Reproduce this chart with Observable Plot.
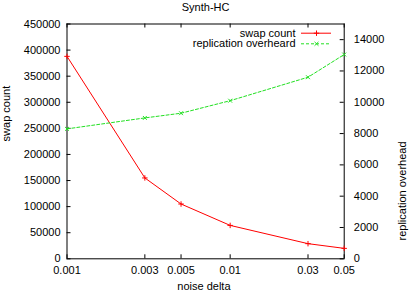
<!DOCTYPE html>
<html>
<head>
<meta charset="utf-8">
<script src="https://cdn.jsdelivr.net/npm/d3@7"></script>
<script src="https://cdn.jsdelivr.net/npm/@observablehq/plot@0.6"></script>
<style>
  html, body { margin: 0; padding: 0; background: #fff; }
</style>
</head>
<body>
<div id="chart"></div>
<script>
// Synth-HC: swap count (left axis) and replication overhead (right axis) vs noise delta
const noiseDelta = [0.001, 0.003, 0.005, 0.01, 0.03, 0.05];
const swapCount = [388000, 155000, 105000, 64000, 29000, 20000];
const replicationOverhead = [8300, 9000, 9300, 10100, 11600, 13050];

const xTicks = [0.001, 0.003, 0.005, 0.01, 0.03, 0.05];
const leftTicks = [0, 50000, 100000, 150000, 200000, 250000, 300000, 350000, 400000, 450000];
const rightTicks = [0, 2000, 4000, 6000, 8000, 10000, 12000, 14000];

// right axis (0–15000) is drawn on the left scale (0–450000)
const k = 450000 / 15000;

const rows = noiseDelta.map((x, i) => ({x, swap: swapCount[i], overhead: replicationOverhead[i] * k}));

const W = 411, H = 293;
const mL = 66.5, mR = 67.3, mT = 23.5, mB = 34.7;
const fw = W - mL - mR, fh = H - mT - mB;
const tickLen = 4;
const red = "#ff0000", green = "#22e022";
const markR = 1.9;

const chart = Plot.plot({
  width: W,
  height: H,
  marginLeft: mL,
  marginRight: mR,
  marginTop: mT,
  marginBottom: mB,
  style: {fontFamily: "'Liberation Sans', Arial, sans-serif", fontSize: "11px", background: "#fff", color: "#000"},
  x: {type: "log", domain: [0.001, 0.05]},
  y: {domain: [0, 450000]},
  marks: [
    // tick labels
    Plot.axisX({ticks: xTicks, tickFormat: d => String(d), tickSize: 0, tickPadding: 7, label: null}),
    Plot.axisY({ticks: leftTicks, tickFormat: d => String(d), tickSize: 0, tickPadding: 6.5, label: null}),
    Plot.axisY({anchor: "right", ticks: rightTicks.map(v => v * k), tickFormat: d => String(Math.round(d / k)), tickSize: 0, tickPadding: 9.6, label: null}),
    // inward ticks
    Plot.tickX(xTicks, {x: d => d, insetTop: fh - tickLen, stroke: "#000"}),
    Plot.tickX(xTicks, {x: d => d, insetBottom: fh - tickLen, stroke: "#000"}),
    Plot.tickY(leftTicks, {y: d => d, insetRight: fw - tickLen, stroke: "#000"}),
    Plot.tickY(rightTicks.map(v => v * k), {y: d => d, insetLeft: fw - tickLen, stroke: "#000"}),
    Plot.frame({stroke: "#000", strokeWidth: 1}),
    // series
    Plot.line(rows, {x: "x", y: "swap", stroke: red, strokeWidth: 1}),
    Plot.dot(rows, {x: "x", y: "swap", symbol: "plus", r: markR, stroke: red, strokeWidth: 1}),
    Plot.line(rows, {x: "x", y: "overhead", stroke: green, strokeWidth: 1, strokeDasharray: "3,2"}),
    Plot.dot(rows, {x: "x", y: "overhead", symbol: "times", r: markR, stroke: green, strokeWidth: 1}),
    // legend
    Plot.text(["swap count"], {frameAnchor: "top-right", textAnchor: "end", lineAnchor: "middle", dx: -48.7, dy: 9.2}),
    Plot.text(["replication overheard"], {frameAnchor: "top-right", textAnchor: "end", lineAnchor: "middle", dx: -48.7, dy: 19.8}),
    Plot.tickY([450000], {y: d => d, dy: 9.2, insetLeft: fw - 42.7, insetRight: 12.7, stroke: red, strokeWidth: 1}),
    Plot.dot([0], {frameAnchor: "top-right", dx: -27.7, dy: 9.2, symbol: "plus", r: markR, stroke: red, strokeWidth: 1}),
    Plot.tickY([450000], {y: d => d, dy: 19.8, insetLeft: fw - 42.7, insetRight: 12.7, stroke: green, strokeWidth: 1, strokeDasharray: "3,2"}),
    Plot.dot([0], {frameAnchor: "top-right", dx: -27.7, dy: 19.8, symbol: "times", r: markR, stroke: green, strokeWidth: 1}),
    // titles
    Plot.text(["Synth-HC"], {frameAnchor: "top", lineAnchor: "middle", dy: -16.2}),
    Plot.text(["noise delta"], {frameAnchor: "bottom", lineAnchor: "middle", dx: -1.7, dy: 27.4}),
    Plot.text(["swap count"], {frameAnchor: "left", rotate: -90, lineAnchor: "middle", dx: -60.5}),
    Plot.text(["replication overhead"], {frameAnchor: "right", rotate: -90, lineAnchor: "middle", dx: 58})
  ]
});

document.getElementById("chart").appendChild(chart);
</script>
</body>
</html>
